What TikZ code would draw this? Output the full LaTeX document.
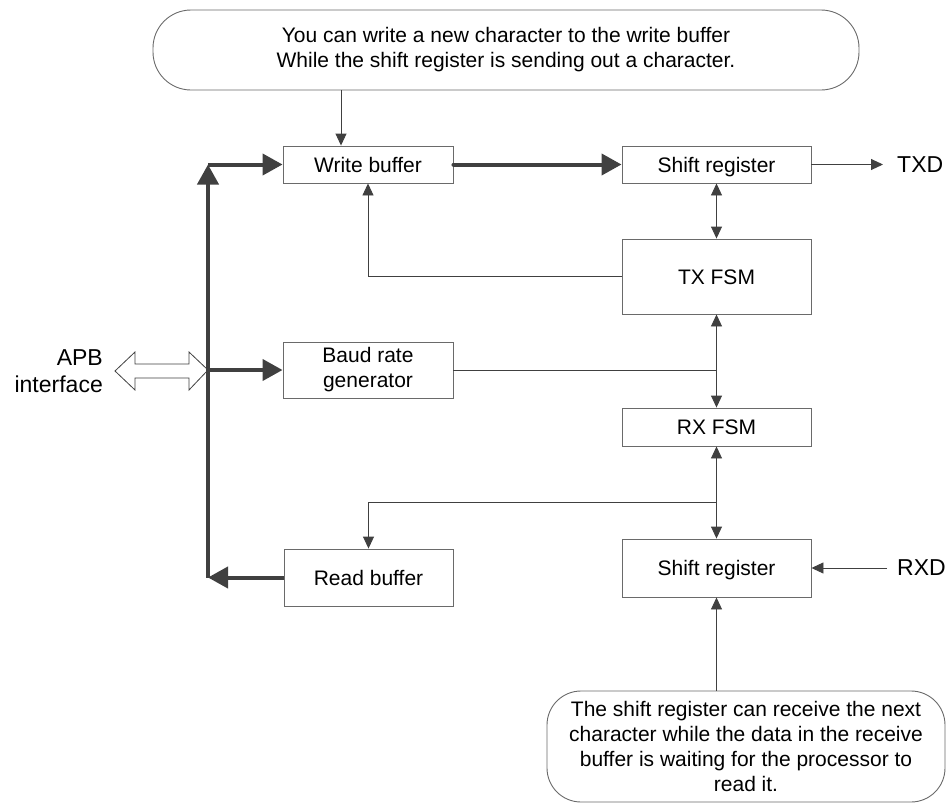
\documentclass[tikz,border=0pt]{standalone}
\usepackage{fontspec}
\setmainfont{Liberation Sans}
\usepackage{xcolor}
\usetikzlibrary{arrows.meta}
\definecolor{linegray}{HTML}{404040}
\definecolor{boxgray}{HTML}{6A6A6A}
\begin{document}
\begin{tikzpicture}[x=1pt,y=-1pt,
    every node/.style={font=\fontsize{21}{25}\selectfont},
    blk/.style={draw=boxgray,line width=0.9pt,inner sep=0pt,align=center},
    oneline/.style={blk,text height=15pt,text depth=0pt},
    note/.style={blk,rounded corners=#1},
    thinarr/.style={draw=linegray,line width=0.9pt,-{Triangle[length=12pt,width=11pt]}},
    bothway/.style={draw=linegray,line width=0.9pt,{Triangle[length=12pt,width=11pt]}-{Triangle[length=12pt,width=11pt]}},
    thinline/.style={draw=linegray,line width=0.9pt},
    busarr/.style={draw=linegray,line width=4pt,-{Triangle[length=20pt,width=21pt]}}]
    \useasboundingbox (0,0) rectangle (950,803);
    \node[note=38, minimum width=706, minimum height=80] (topnote) at (506,50)
        {You can write a new character to the write buffer\\While the shift register is sending out a character.};
    \node[oneline, minimum width=170, minimum height=37] (wbuf) at (368,164.5) {Write buffer};
    \node[oneline, minimum width=189, minimum height=37] (txsr) at (716.5,164.5) {Shift register};
    \node[oneline, minimum width=189, minimum height=75] (txfsm) at (716.5,276.5) {TX FSM};
    \node[blk, minimum width=170, minimum height=56] (baud) at (368,370) {Baud rate\\generator};
    \node[oneline, minimum width=189, minimum height=38] (rxfsm) at (716.5,427) {RX FSM};
    \node[oneline, minimum width=169, minimum height=57] (rbuf) at (368.5,577.5) {Read buffer};
    \node[oneline, minimum width=189, minimum height=58] (rxsr) at (716.5,568) {Shift register};
    \node[note=34, minimum width=398, minimum height=111] (botnote) at (746,746.5)
        {The shift register can receive the next\\character while the data in the receive\\buffer is waiting for the processor to\\read it.};
    \node[inner sep=0pt, anchor=west, font=\fontsize{23}{27}\selectfont] (txd) at (897,164.5) {TXD};
    \node[inner sep=0pt, anchor=west, font=\fontsize{23}{27}\selectfont] (rxd) at (897,568) {RXD};
    \node[inner sep=0pt, anchor=east, align=right, font=\fontsize{23}{27}\selectfont] (apb) at (103,371) {APB\\interface};
    \coordinate (bustop) at (208,164.5);
    \coordinate (busmid) at (208,370);
    \coordinate (busbot) at (208,577.5);
    \coordinate (j1) at (txfsm.south |- baud.east);
    \coordinate (j2) at (716.5,502);
    \draw[draw=linegray, fill=white, line width=0.8pt] (115,371) -- (135,352) -- (135,364) -- (189,364) -- (189,352)
        -- (busmid) -- (189,390) -- (189,378) -- (135,378) -- (135,390) -- cycle;
    \draw[busarr] (busbot) -- (bustop);
    \draw[busarr] (bustop) -- (wbuf);
    \draw[busarr] (busmid) -- (baud);
    \draw[busarr] (rbuf) -- (busbot);
    \draw[busarr, line cap=round] (wbuf) -- (txsr);
    \draw[thinarr] ([xshift=-27pt]wbuf.north |- topnote.south) -- ([xshift=-27pt]wbuf.north);
    \draw[thinarr] (txsr) -- ([xshift=-14pt]txd.west);
    \draw[bothway] (txsr) -- (txfsm);
    \draw[thinarr] (txfsm.west) -| (wbuf.south);
    \draw[thinline] (baud) -- (j1);
    \draw[bothway] (txfsm) -- (rxfsm);
    \draw[bothway] (rxfsm) -- (rxsr);
    \draw[thinarr] (j2) -| (rbuf.north);
    \draw[thinarr] ([xshift=-10pt]rxd.west) -- (rxsr);
    \draw[thinarr] (botnote.north -| rxsr.south) -- (rxsr.south);
\end{tikzpicture}
\end{document}
